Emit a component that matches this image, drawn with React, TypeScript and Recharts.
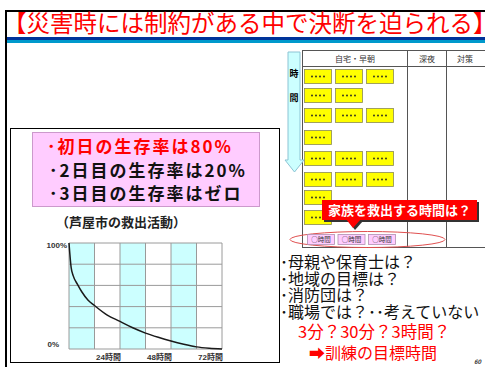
import { LineChart, Line, XAxis, YAxis, CartesianGrid } from "recharts";

// 救出までの経過時間と生存率
const HOURS = [0, 1, 2, 4, 6, 9, 12, 18, 24, 30, 36, 42, 48, 54, 60, 66, 72];
const SURVIVAL = [100, 77, 69, 61, 54, 46, 41, 32, 26, 20, 15, 11, 7.5, 4.5, 2, 0.7, 0];
const X_TICKS = [0, 12, 24, 36, 48, 60, 72];
const X_LABELS = ["", "", "24時間", "", "48時間", "", "72時間"];
const Y_TICKS = [0, 20, 40, 60, 80, 100];
const Y_LABELS = ["0%", "", "", "", "", "100%"];
const STRIPES = ["#ccffff", "#ffffff"];

const TITLE = "【災害時には制約がある中で決断を迫られる】";
const FACTS = ["･初日の生存率は80%", "･2日目の生存率は20%", "･3日目の生存率はゼロ"];
const CHART_TITLE = "（芦屋市の救出活動）";
const HEADERS = ["自宅・早朝", "深夜", "対策"];
const BOX_ROWS = [3, 2, 3, 1, 3, 3, 1, 1];
const TIME_BOXES = ["○時間", "○時間", "○時間"];
const CALLOUT = "家族を救出する時間は？";
const QUESTIONS = ["･母親や保育士は？", "･地域の目標は？", "･消防団は？", "･職場では？･･考えていない"];
const GOALS = ["3分？30分？3時間？", "➡訓練の目標時間"];

const ROW_TOPS = [69, 88, 108, 130, 151, 172, 190, 210];
const BOX_LEFTS = [304, 335, 366];
const HEADER_X = [355, 427, 465];

const JP = '"Noto Sans CJK JP", sans-serif';
const AXIS_FONT = '"Liberation Sans", "Noto Sans CJK JP", sans-serif';

const data = HOURS.map((h, i) => ({ h, s: SURVIVAL[i] }));

function XTick({ x, y, payload }: any) {
  const label = X_LABELS[X_TICKS.indexOf(payload.value)];
  if (!label) return null;
  return (
    <text x={x + 1} y={y} dy={3} textAnchor="end" fontSize={8} fontWeight="bold" fill="#333" fontFamily={AXIS_FONT}>
      {label}
    </text>
  );
}

function YTick({ x, y, payload }: any) {
  const label = Y_LABELS[Y_TICKS.indexOf(payload.value)];
  if (!label) return null;
  const top = payload.value === 100;
  return (
    <text x={top ? x + 6 : x - 2} y={y} dy={top ? 5 : -2} textAnchor="end" fontSize={8} fontWeight="bold" fill="#333" fontFamily={AXIS_FONT}>
      {label}
    </text>
  );
}

function SurvivalChart() {
  return (
    <LineChart width={220} height={140} data={data} margin={{ top: 13, right: 18, bottom: 1, left: 19 }}>
      <CartesianGrid stroke="#9a9a9a" strokeWidth={1} verticalFill={STRIPES} fillOpacity={1} />
      <XAxis dataKey="h" type="number" domain={[0, 72]} ticks={X_TICKS} interval={0}
        axisLine={false} tickLine={false} height={20} tick={<XTick />} />
      <YAxis type="number" domain={[0, 100]} ticks={Y_TICKS} interval={0}
        axisLine={false} tickLine={false} width={30} tick={<YTick />} />
      <Line dataKey="s" type="monotone" stroke="#1a1a1a" strokeWidth={1.5} dot={false} isAnimationActive={false} />
    </LineChart>
  );
}

function YellowBox({ x, y }: { x: number; y: number }) {
  return (
    <g>
      <rect x={x + 0.5} y={y + 0.5} width={27} height={14} fill="#ffff00" stroke="#8a8a55" strokeWidth={0.8} />
      {[-6, -2, 2, 6].map((d) => (
        <circle key={d} cx={x + 14 + d} cy={y + 7.5} r={0.9} fill="#222" />
      ))}
    </g>
  );
}

function TimelinePanel() {
  return (
    <svg width={485} height={367} style={{ position: "absolute", left: 0, top: 0 }}>
      {/* 表の罫線 */}
      <g stroke="#555" strokeWidth={1}>
        <line x1={302} y1={50.5} x2={485} y2={50.5} />
        <line x1={302} y1={66.5} x2={485} y2={66.5} />
        <line x1={302} y1={247.5} x2={485} y2={247.5} />
        <line x1={302.5} y1={50} x2={302.5} y2={248} />
        <line x1={407.5} y1={50} x2={407.5} y2={248} />
        <line x1={446.5} y1={50} x2={446.5} y2={248} />
      </g>
      {HEADERS.map((h, i) => (
        <text key={h} x={HEADER_X[i]} y={62} textAnchor="middle" fontSize={8} fill="#333" fontFamily={JP}>{h}</text>
      ))}

      {/* 時間の矢印 */}
      <polygon points="288,52 300,52 300,160 304,160 294.5,172 285,160 288,160" fill="#ccffff" stroke="#8cc4d4" strokeWidth={1} />
      <text x={294} y={77} textAnchor="middle" fontSize={9} fontWeight="bold" fontFamily={JP}>時</text>
      <text x={294} y={101} textAnchor="middle" fontSize={9} fontWeight="bold" fontFamily={JP}>間</text>

      {BOX_ROWS.map((n, r) =>
        BOX_LEFTS.slice(0, n).map((x) => <YellowBox key={`${r}-${x}`} x={x} y={ROW_TOPS[r]} />)
      )}

      <ellipse cx={367.5} cy={239.5} rx={77.5} ry={8} fill="none" stroke="#e05050" strokeWidth={1} />
      {TIME_BOXES.map((t, i) => (
        <g key={i}>
          <rect x={307.5 + i * 30.5} y={234.5} width={27} height={10} fill="#ffccff" stroke="#b090b0" strokeWidth={0.8} />
          <text x={321 + i * 30.5} y={242} textAnchor="middle" fontSize={6.5} fill="#333" fontFamily={JP}>{t}</text>
        </g>
      ))}

      {/* 吹き出し */}
      <rect x={324} y={202} width={155} height={20} fill="#333" />
      <polygon points="348,221 363,221 355,230" fill="#333" />
      <rect x={322} y={200} width={155} height={20} fill="#ff0000" />
      <polygon points="346,219 361,219 353,228" fill="#ff0000" />
      <text x={399.5} y={215} textAnchor="middle" fontSize={13} fontWeight="bold" fill="#fff" fontFamily={JP}>{CALLOUT}</text>
    </svg>
  );
}

export default function App() {
  return (
    <div style={{ position: "absolute", left: 0, top: 0, width: 485, height: 367, overflow: "hidden", background: "#fff", fontFamily: JP }}>
      <div style={{ position: "absolute", left: 5, top: 10, width: 520, height: 420, borderLeft: "2px solid #000", borderTop: "2px solid #000" }} />
      <div style={{ position: "absolute", left: 3, top: 11, fontSize: 23.5, lineHeight: "23.5px", color: "#ff0000", whiteSpace: "nowrap" }}>
        {TITLE}
      </div>
      <div style={{ position: "absolute", left: 7, top: 37, width: 478, height: 3, background: "#003399" }} />
      <div style={{ position: "absolute", left: 7, top: 40, width: 478, height: 3, background: "#0099cc" }} />

      {/* 左側：生存率 */}
      <div style={{ position: "absolute", left: 10, top: 128, width: 270, height: 235, boxSizing: "border-box", border: "1px solid #000" }} />
      <div style={{ position: "absolute", left: 32, top: 132, width: 228, height: 75, boxSizing: "border-box", background: "#ffccff", border: "1px solid #cc99cc" }} />
      {FACTS.map((f, i) => (
        <div key={f} style={{
          position: "absolute", left: i === 0 ? 47 : 49, top: [136, 160, 183][i], fontSize: 17, lineHeight: "20px",
          fontWeight: 700, letterSpacing: 2, whiteSpace: "nowrap", color: i === 0 ? "#ff0000" : "#111",
        }}>
          {f}
        </div>
      ))}
      <div style={{ position: "absolute", left: 56, top: 214, fontSize: 13, lineHeight: "16px", fontWeight: 700, color: "#222", whiteSpace: "nowrap" }}>
        {CHART_TITLE}
      </div>
      <div style={{ position: "absolute", left: 20, top: 230 }}>
        <SurvivalChart />
      </div>

      {/* 右側：時間軸の表 */}
      <TimelinePanel />
      <div style={{ position: "absolute", left: 280, top: 253, fontSize: 16, lineHeight: "16.7px", color: "#111", whiteSpace: "nowrap" }}>
        {QUESTIONS.map((q) => <div key={q}>{q}</div>)}
      </div>
      <div style={{ position: "absolute", left: 298, top: 323, fontSize: 16.5, lineHeight: "17px", color: "#ff0000", whiteSpace: "nowrap" }}>
        {GOALS[0]}
      </div>
      <div style={{ position: "absolute", left: 309, top: 344, fontSize: 16, lineHeight: "17px", color: "#ff0000", whiteSpace: "nowrap" }}>
        {GOALS[1]}
      </div>
      <div style={{ position: "absolute", left: 474, top: 358, fontSize: 6, lineHeight: "7px", fontWeight: 700, fontStyle: "italic", color: "#333" }}>60</div>
    </div>
  );
}
